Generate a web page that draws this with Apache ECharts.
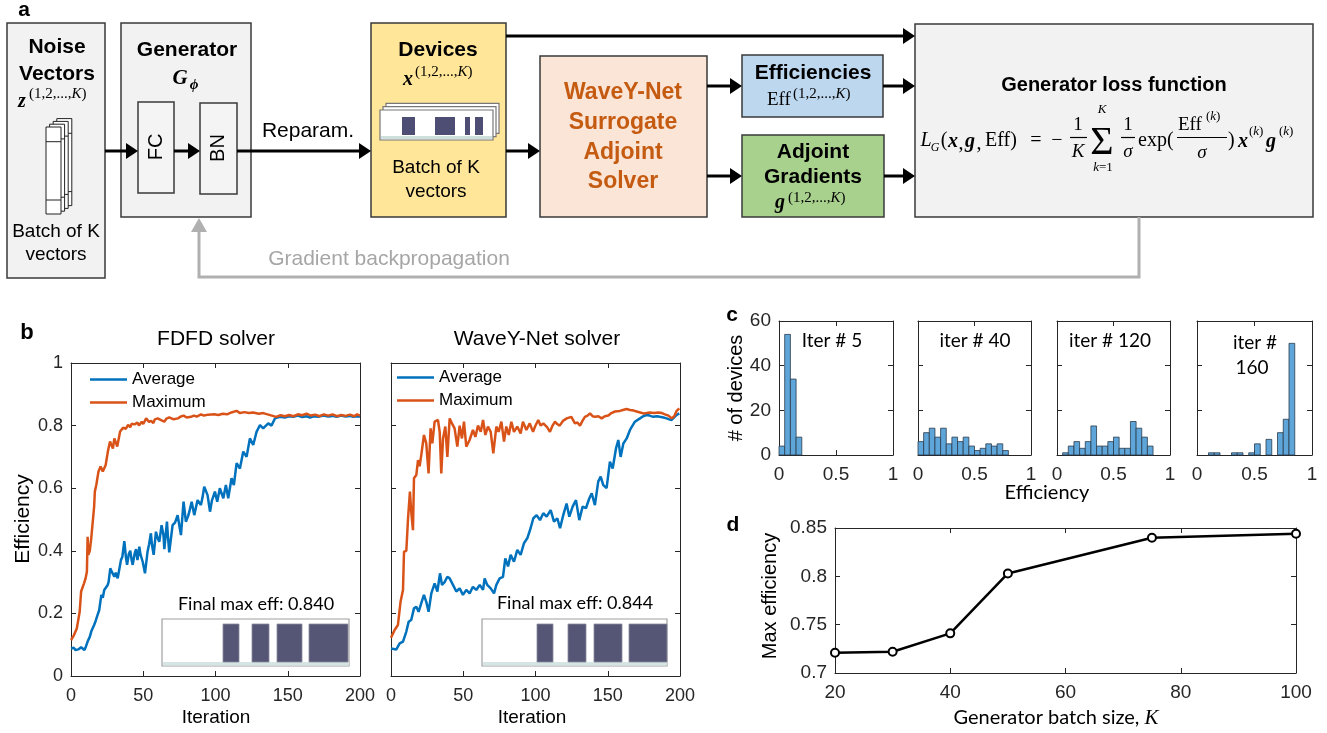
<!DOCTYPE html>
<html><head><meta charset="utf-8">
<script src="https://cdn.jsdelivr.net/npm/echarts@6/dist/echarts.min.js"></script>
<style>html,body{margin:0;padding:0;background:#fff}#c{width:1327px;height:733px}</style>
</head><body><div id="c"></div>
<script>
// ---------- Panel b data: [iteration, efficiency] ----------
const fdfdAvg = [[0,0.088],[2,0.09],[3,0.083],[5,0.085],[7,0.092],[8,0.088],[9.3,0.083],[10,0.09],[11.5,0.11],[13,0.125],[14,0.142],[16,0.163],[17,0.175],[18.4,0.195],[19.5,0.21],[21,0.259],[22,0.25],[23,0.275],[25.4,0.291],[26,0.3],[27.2,0.344],[28,0.335],[30,0.317],[31,0.33],[32.3,0.312],[34.6,0.371],[35.5,0.38],[36.9,0.431],[38,0.38],[38.8,0.355],[40,0.39],[41,0.40],[42,0.37],[42.7,0.355],[44,0.39],[45,0.405],[46,0.37],[47.3,0.413],[48,0.39],[49.6,0.365],[51.2,0.328],[53,0.398],[54,0.42],[55.3,0.456],[56,0.42],[57.2,0.387],[58.8,0.461],[60,0.44],[61.1,0.429],[62.7,0.482],[64,0.45],[64.6,0.405],[66.4,0.493],[67,0.45],[68,0.395],[70.3,0.482],[72,0.49],[73.8,0.514],[75,0.48],[76.1,0.45],[77.9,0.557],[79.5,0.493],[81,0.51],[81.9,0.525],[83.5,0.557],[85.3,0.514],[87.6,0.562],[89.9,0.546],[91,0.57],[92.2,0.605],[94.5,0.578],[96.2,0.525],[97.5,0.56],[99.6,0.589],[101.2,0.557],[103,0.6],[105.4,0.568],[107.2,0.61],[108.8,0.568],[111.1,0.632],[112.7,0.61],[114.6,0.68],[116.9,0.663],[119.2,0.717],[121.5,0.70],[123.8,0.759],[126.1,0.738],[128.4,0.78],[130.8,0.802],[133,0.791],[136.5,0.807],[138.8,0.80],[141.1,0.823],[144.6,0.828],[148,0.826],[151,0.83],[153.8,0.828],[157,0.832],[160,0.827],[163,0.83],[165.4,0.826],[168,0.83],[171,0.828],[174.6,0.832],[178,0.829],[181,0.831],[183.8,0.828],[187,0.832],[190,0.829],[193,0.831],[195.3,0.828],[198,0.83],[200,0.828]];
const fdfdMax = [[0,0.115],[2,0.13],[4,0.152],[6,0.205],[7,0.27],[9,0.296],[10,0.31],[11,0.333],[11.5,0.445],[12,0.387],[13,0.40],[14,0.44],[15,0.445],[16,0.54],[16.5,0.589],[17.5,0.61],[19,0.653],[20.5,0.669],[22,0.653],[24,0.674],[25.5,0.717],[27,0.749],[29,0.727],[30,0.759],[32,0.733],[34,0.781],[36,0.793],[38,0.79],[39.5,0.802],[41,0.795],[42,0.806],[44,0.804],[46,0.81],[47,0.80],[49,0.8125],[50,0.805],[52,0.823],[54,0.812],[55.5,0.815],[57,0.808],[58,0.82],[60,0.823],[62,0.818],[64.5,0.8125],[66,0.822],[68,0.826],[69,0.828],[71,0.82],[74,0.823],[76,0.829],[78,0.832],[80,0.826],[83,0.828],[85,0.832],[87,0.829],[90,0.836],[92,0.832],[95,0.835],[99,0.836],[102,0.834],[105,0.838],[108,0.836],[111,0.842],[114.6,0.847],[117,0.84],[120,0.843],[123,0.84],[126,0.842],[130,0.838],[133,0.84],[136,0.836],[139,0.832],[142,0.828],[145,0.833],[148,0.83],[151,0.834],[154,0.83],[157,0.836],[160,0.833],[163,0.838],[166,0.832],[169,0.835],[172,0.83],[175,0.836],[178,0.832],[181,0.836],[184,0.83],[187,0.834],[190,0.831],[193,0.835],[196,0.83],[198,0.836],[200,0.832]];
const wyAvg = [[0,0.088],[3.7,0.085],[6,0.104],[8.3,0.11],[10.6,0.142],[12.2,0.173],[14,0.179],[15.9,0.216],[17.5,0.221],[19.1,0.205],[20.9,0.232],[22.8,0.259],[24.4,0.237],[26,0.205],[27.9,0.264],[30.2,0.296],[32.1,0.27],[33.9,0.328],[35.3,0.291],[37.1,0.30],[39,0.317],[40.6,0.312],[42.9,0.291],[45.2,0.27],[47.5,0.28],[49.8,0.259],[52.1,0.275],[54.4,0.264],[56.7,0.285],[59,0.275],[61.4,0.291],[63.7,0.275],[64.8,0.312],[66.6,0.291],[69,0.28],[71.3,0.264],[72.9,0.291],[75.2,0.312],[77.5,0.317],[79.1,0.376],[81,0.35],[82.8,0.387],[85.1,0.365],[87.4,0.403],[89.7,0.387],[92,0.424],[94.3,0.44],[96.6,0.472],[98.5,0.504],[100.8,0.514],[103.1,0.498],[105.4,0.52],[107.7,0.509],[110.5,0.53],[112.8,0.493],[115.1,0.504],[117,0.472],[119.2,0.514],[121.5,0.551],[123.4,0.509],[125.7,0.541],[128,0.562],[130.3,0.498],[132.6,0.541],[134.9,0.536],[137.2,0.567],[138.9,0.584],[141.1,0.546],[143.4,0.621],[145.1,0.637],[146.9,0.61],[149.2,0.60],[151.5,0.685],[153.4,0.663],[155.7,0.727],[157.3,0.754],[158.9,0.70],[160.8,0.743],[163.1,0.759],[165.4,0.786],[168.8,0.8125],[172.3,0.823],[174.5,0.83],[176.9,0.834],[179,0.832],[181.5,0.828],[184,0.83],[186.1,0.828],[188.5,0.826],[190.7,0.823],[192.5,0.82],[194.2,0.818],[196,0.826],[197.7,0.834],[199.5,0.839]];
const wyMax = [[0,0.122],[2.5,0.147],[4.8,0.163],[6.6,0.237],[8.3,0.275],[9,0.397],[10.6,0.40],[11.8,0.504],[13.1,0.589],[14,0.525],[15.2,0.466],[15.9,0.632],[17.5,0.642],[18.7,0.69],[19.8,0.67],[20.9,0.704],[22.8,0.77],[24.4,0.743],[26,0.647],[27.4,0.791],[28.6,0.743],[30.2,0.8125],[32.5,0.818],[33.7,0.78],[34.8,0.647],[36,0.759],[37.6,0.797],[39,0.70],[40.6,0.823],[42.2,0.807],[44,0.791],[45.9,0.733],[47.5,0.80],[49.1,0.759],[50.5,0.8125],[52.1,0.733],[54.4,0.754],[56.7,0.786],[58.4,0.764],[60.2,0.80],[62.1,0.78],[63.7,0.818],[65.3,0.77],[67.1,0.797],[69,0.78],[70.8,0.711],[72.9,0.797],[74.5,0.78],[76.4,0.8125],[78.2,0.749],[79.8,0.797],[81.5,0.77],[83.3,0.8125],[85.1,0.78],[87.4,0.797],[89.7,0.775],[91.3,0.8125],[93.7,0.786],[96,0.807],[98.3,0.78],[99.7,0.797],[101.9,0.818],[103.5,0.80],[105.4,0.807],[108,0.795],[110,0.78],[111.8,0.80],[113.5,0.8125],[115,0.805],[116.7,0.80],[119,0.815],[121.6,0.823],[124.8,0.828],[127.3,0.807],[129,0.81],[130.8,0.80],[132.5,0.815],[134.2,0.828],[136,0.832],[137.7,0.839],[139.5,0.83],[141.1,0.828],[143.5,0.83],[145.8,0.823],[148,0.83],[150.4,0.832],[152.5,0.84],[155,0.845],[158.4,0.847],[160.5,0.85],[163,0.853],[165.4,0.85],[168,0.848],[170,0.845],[172.5,0.842],[174.6,0.839],[177,0.84],[179.2,0.842],[182,0.84],[185,0.842],[187.5,0.84],[189.6,0.836],[192,0.832],[194.2,0.823],[196,0.83],[197.7,0.847],[199.5,0.855]];

// ---------- Panel c data: histogram counts (bin width 0.05) ----------
const histBinWidth = 0.05;
const histStart = [0, 0, 0.05, 0.10];
const histIter5 = [4,54,34,8];
const histIter40 = [6,10,12,8,12,5,8,6,8,4,2,3,5,4,5,2];
const histIter120 = [1,4,6,3,6,13,4,4,6,8,3,3,15,12,8,4];
const histIter160 = [1,1,0,0,1,1,0,1,5,0,7,0,10,16,50];

// ---------- Panel d data ----------
const batchSize = [20,30,40,50,75,100];
const maxEff = [0.721,0.722,0.741,0.803,0.840,0.844];

const SANS = '"Liberation Sans", Arial, sans-serif';
const SERIF = '"Liberation Serif", "DejaVu Serif", serif';
const CAL = 'Lato, "Open Sans", sans-serif';
const AX = '#262626';
const BLUE = '#0072BD', ORANGE = '#D95319';

// ---------- graphic helpers (diagram / annotations) ----------
const g = [];
function R(x,y,w,h,fill,stroke,lw,z){ g.push({type:'rect', z:z||5, shape:{x:x,y:y,width:w,height:h}, style:{fill:fill, stroke:stroke||null, lineWidth: lw==null?1:lw}}); }
function P(points, stroke, lw, z){ g.push({type:'polyline', z:z||6, shape:{points:points}, style:{stroke:stroke, lineWidth:lw, fill:null}}); }
function G(points, fill, z){ g.push({type:'polygon', z:z||6, shape:{points:points}, style:{fill:fill}}); }
function arrowH(x1,x2,y){ P([[x1,y],[x2-9,y]],'#000',3); G([[x2-12,y-8],[x2,y],[x2-12,y+8]],'#000'); }
function T(x,y,text,size,o){ o=o||{}; g.push({type:'text', z:o.z||10, x:x, y:y, rotation:o.rot||0,
  style:{text:text, fontSize:size, fontFamily:o.ff||SANS, fontWeight:o.fw||'normal', fontStyle:o.fs||'normal',
  fill:o.color||'#000', align:o.align||'center', verticalAlign:o.va||'middle', rich:o.rich}}); }
function supK(x,y,size,txt){
  T(x,y,txt,size,{ff:SERIF, align:'left', rich:{u:{fontSize:size,fontFamily:SERIF,fill:'#000'}, i:{fontSize:size,fontFamily:SERIF,fontStyle:'italic',fill:'#000'}}});
}

// Panel labels
T(24,10,'a',21,{fw:'bold'});
T(27,333,'b',22,{fw:'bold'});
T(732,315,'c',21,{fw:'bold'});
T(733,525,'d',21,{fw:'bold'});

// ---- Panel a diagram ----
R(7,23,98,255,'#f2f2f2','#3a3a3a',1.5);
R(121,23,130,194,'#f2f2f2','#3a3a3a',1.5);
R(138,102,36,91,'#f4f4f4','#3a3a3a',1.5);
R(200,103,37,91,'#f4f4f4','#3a3a3a',1.5);
R(371,23,135,194,'#ffe699','#3a3a3a',1.5);
R(540,56,167,161,'#fbe5d6','#3a3a3a',1.5);
R(742,55,141,62,'#bdd7ee','#3a3a3a',1.5);
R(742,135,142,82,'#a9d18e','#3a3a3a',1.5);
R(915,24,398,193,'#f2f2f2','#3a3a3a',1.5);

// noise vector stack
for (let i=3;i>=0;i--){
  const x=46+3.6*i, y=127-2.8*i;
  R(x,y,15,87,'#ffffff','#222',1,7);
  P([[x,y+14.7],[x+15,y+14.7]],'#222',1,7);
  P([[x,y+73],[x+15,y+73]],'#222',1,7);
}
// device stack
for (let i=2;i>=0;i--){
  const x=380+3*i, y=110-3.3*i;
  R(x,y,113,30,'#ffffff','#777',1.2,7);
}
R(381,136,111,3,'#cfe0dc',null,0,8);
[[402,13],[435,20],[465,5],[475,8]].forEach(b=>R(b[0],117,b[1],18,'#4e4e74',null,0,8));

// arrows
arrowH(105,138,151); arrowH(174,200,151); arrowH(237,371,151);
arrowH(506,915,36); arrowH(506,540,151);
arrowH(707,742,86); arrowH(707,742,176);
arrowH(883,915,86); arrowH(884,915,176);
// backprop
P([[1139,217],[1139,277],[199,277],[199,230]],'#b0b0b0',3);
G([[191,232],[199,218],[207,232]],'#b0b0b0');
T(389,259,'Gradient backpropagation',21,{color:'#a6a6a6'});

// texts in boxes
T(57,47,'Noise',21,{fw:'bold'});
T(57,74,'Vectors',21,{fw:'bold'});
T(22,102,'z',20,{ff:SERIF,fw:'bold',fs:'italic'});
supK(29,94,15,'{u|(1,2,...,}{i|K}{u|)}');
T(56,232,'Batch of K',19);
T(56,255,'vectors',19);

T(187,50,'Generator',21,{fw:'bold'});
T(180,79,'G',21,{ff:SERIF,fw:'bold',fs:'italic'});
T(194,85,'ϕ',15,{ff:SERIF,fw:'bold',fs:'italic'});
T(156,147,'FC',20,{rot:Math.PI/2});
T(218,148,'BN',20,{rot:Math.PI/2});
T(308,131,'Reparam.',21);

T(438,50,'Devices',21,{fw:'bold'});
T(408,80,'x',20,{ff:SERIF,fw:'bold',fs:'italic'});
supK(415,72,15,'{u|(1,2,...,}{i|K}{u|)}');
T(436,168,'Batch of K',19);
T(436,192,'vectors',19);

const WC = '#c55a11';
T(623,93,'WaveY-Net',23,{fw:'bold',color:WC});
T(623,123,'Surrogate',23,{fw:'bold',color:WC});
T(623,153,'Adjoint',23,{fw:'bold',color:WC});
T(623,182,'Solver',23,{fw:'bold',color:WC});

T(813,73,'Efficiencies',21,{fw:'bold'});
T(767,100,'Eff',19,{ff:SERIF,align:'left'});
supK(793,94,15,'{u|(1,2,...,}{i|K}{u|)}');
T(813,152,'Adjoint',21,{fw:'bold'});
T(813,177,'Gradients',21,{fw:'bold'});
T(780,203,'g',20,{ff:SERIF,fw:'bold',fs:'italic'});
supK(788,198,15,'{u|(1,2,...,}{i|K}{u|)}');

// loss function
T(1114,85,'Generator loss function',20,{fw:'bold'});
const it = {ff:SERIF, fs:'italic'}, bi = {ff:SERIF, fs:'italic', fw:'bold'}, rm = {ff:SERIF};
T(926,141,'L',20,it); T(935,148,'G',12,it);
T(944,141,'(',20,rm); T(953,142,'x',20,bi); T(961,144,',',20,rm);
T(970,142,'g',20,bi); T(979,144,',',20,rm); T(985,141,'Eff)',20,{ff:SERIF,align:'left'});
T(1036,141,'=',20,rm); T(1057,141,'−',20,rm);
T(1078,125,'1',19,rm); P([[1070,137.5],[1087,137.5]],'#000',1.2); T(1078,152,'K',19,it);
T(1102,143,'Σ',40,rm); T(1102,110,'K',13,it);
T(1103,168,'{i|k}{u|=1}',13,{ff:SERIF,rich:{i:{fontSize:13,fontFamily:SERIF,fontStyle:'italic'},u:{fontSize:13,fontFamily:SERIF}}});
T(1128,125,'1',19,rm); P([[1121,137.5],[1135,137.5]],'#000',1.2); T(1128,152,'σ',19,it);
T(1138,141,'exp(',20,{ff:SERIF,align:'left'});
T(1178,125,'Eff',19,{ff:SERIF,align:'left'}); supK(1206,117,13,'{u|(}{i|k}{u|)}');
P([[1177,137.5],[1227,137.5]],'#000',1.2); T(1202,153,'σ',19,it);
T(1228,141,')',20,{ff:SERIF,align:'left'});
T(1243,142,'x',20,bi); supK(1249,132,13,'{u|(}{i|k}{u|)}');
T(1271,142,'g',20,bi); supK(1279,132,13,'{u|(}{i|k}{u|)}');

// ---- Panel b annotations ----
T(216,339,'FDFD solver',21);
T(537,339,'WaveY-Net solver',21);
T(23,519,'Efficiency',21,{rot:Math.PI/2});
T(216,718,'Iteration',19);
T(532,718,'Iteration',19);
T(256,604,'Final max eff: 0.840',18,{ff:CAL});
T(575,603,'Final max eff: 0.844',18,{ff:CAL});
function inset(x0,w,bars){
  R(x0,619,w,47,'#ffffff','#a0a0a0',1.2,7);
  R(x0+1,662,w-1,3.5,'#d5e5e3',null,0,8);
  bars.forEach(b=>R(b[0],624,b[1],38,'#555575','#8a8aa0',0.8,8));
}
inset(162,187,[[223,16],[252,17],[277,25],[309,39]]);
inset(482,185,[[537,16],[568,18],[594,28],[629,38]]);

// ---- Panel c annotations ----
T(736,388,'# of devices',20,{rot:Math.PI/2});
T(1047,493,'Efficiency',20,{ff:CAL});
T(832,341,'Iter # 5',19,{ff:CAL});
T(975,341,'iter # 40',19,{ff:CAL});
T(1110,341,'iter # 120',19,{ff:CAL});
T(1255,343,'iter #',19,{ff:CAL});
T(1252,368,'160',19,{ff:CAL});

// ---- Panel d annotations ----
T(770,596,'Max efficiency',20,{rot:Math.PI/2});
T(1056,718,'{a|Generator batch size, }{k|K}',20,{ff:CAL,rich:{a:{fontSize:20,fontFamily:CAL,fill:'#000'},k:{fontSize:21,fontFamily:SERIF,fontStyle:'italic',fill:'#000'}}});

// ---------- grids & axes ----------
const grids = [
  {left:71, top:363, width:289, height:313},
  {left:391, top:363, width:289, height:313},
  {left:779, top:321, width:114, height:134},
  {left:918, top:321, width:113, height:134},
  {left:1057, top:321, width:113, height:134},
  {left:1197, top:321, width:115, height:134},
  {left:835, top:528, width:461, height:145}
];
function axis(gi, pos, r, show, fs, margin, fmt){
  return {type:'value', gridIndex:gi, position:pos, min:r[0], max:r[1], interval:r[2],
    axisLine:{show:true, onZero:false, lineStyle:{color:AX, width:1}},
    axisTick:{show:true, inside:true, length:5, lineStyle:{color:AX}},
    splitLine:{show:false},
    axisLabel:{show:show, fontSize:fs, fontFamily:SANS, color:AX, margin:margin, formatter:fmt}};
}
const fmt2 = v => String(+v.toFixed(2));
const axCfg = [
  {x:[0,200,50], y:[0,1,0.2], xl:true, yl:true, xfs:18, yfs:18, xm:11, ym:8},
  {x:[0,200,50], y:[0,1,0.2], xl:true, yl:false, xfs:18, yfs:18, xm:11, ym:8},
  {x:[0,1,0.5], y:[0,60,20], xl:true, yl:true, xfs:19, yfs:19, xm:10, ym:8},
  {x:[0,1,0.5], y:[0,60,20], xl:true, yl:false, xfs:19, yfs:19, xm:10, ym:8},
  {x:[0,1,0.5], y:[0,60,20], xl:true, yl:false, xfs:19, yfs:19, xm:10, ym:8},
  {x:[0,1,0.5], y:[0,60,20], xl:true, yl:false, xfs:19, yfs:19, xm:10, ym:8},
  {x:[20,100,20], y:[0.7,0.85,0.05], xl:true, yl:true, xfs:19, yfs:19, xm:10, ym:8}
];
const xAxes = [], yAxes = [];
axCfg.forEach((c,gi)=>{
  xAxes.push(axis(gi,'bottom',c.x,c.xl,c.xfs,c.xm,fmt2));
  xAxes.push(axis(gi,'top',c.x,false,c.xfs,c.xm,fmt2));
  yAxes.push(axis(gi,'left',c.y,c.yl,c.yfs,c.ym,fmt2));
  yAxes.push(axis(gi,'right',c.y,false,c.yfs,c.ym,fmt2));
});

// ---------- series ----------
function lineS(name, data, gi, color){
  return {type:'line', name:name, xAxisIndex:2*gi, yAxisIndex:2*gi, data:data, showSymbol:false, symbol:'none',
    lineStyle:{color:color, width:2.5}, itemStyle:{color:color}, z:3};
}
function histS(counts, start, gi){
  const data = [];
  counts.forEach((n,i)=>{ if(n>0){ const x0 = +(start + i*histBinWidth).toFixed(3); data.push([x0, +(x0+histBinWidth).toFixed(3), n]); } });
  return {type:'custom', xAxisIndex:2*gi, yAxisIndex:2*gi, data:data, encode:{x:[0,1], y:2},
    renderItem:function(params, api){
      const p0 = api.coord([api.value(0), api.value(2)]);
      const p1 = api.coord([api.value(1), 0]);
      return {type:'rect', shape:{x:p0[0], y:p0[1], width:p1[0]-p0[0], height:p1[1]-p0[1]},
        style:{fill:'#5ea5d9', stroke:'#2b3b4b', lineWidth:0.8}};
    }};
}
const series = [
  lineS('Average', fdfdAvg, 0, BLUE), lineS('Maximum', fdfdMax, 0, ORANGE),
  lineS('Average', wyAvg, 1, BLUE), lineS('Maximum', wyMax, 1, ORANGE),
  histS(histIter5, histStart[0], 2), histS(histIter40, histStart[1], 3),
  histS(histIter120, histStart[2], 4), histS(histIter160, histStart[3], 5),
  {type:'line', xAxisIndex:12, yAxisIndex:12, data:batchSize.map((k,i)=>[k,maxEff[i]]),
   symbol:'circle', symbolSize:8, lineStyle:{color:'#000', width:2.5},
   itemStyle:{color:'#ffffff', borderColor:'#000', borderWidth:2}, z:4}
];

const legendBase = {orient:'vertical', data:['Average','Maximum'], icon:'rect', itemWidth:37, itemHeight:2.5,
  itemGap:6, selectedMode:false, textStyle:{fontSize:17, fontFamily:SANS, color:'#000'}};
const chart = echarts.init(document.getElementById('c'), null, {renderer:'canvas'});
chart.setOption({
  animation:false,
  backgroundColor:'#fff',
  grid: grids,
  xAxis: xAxes,
  yAxis: yAxes,
  legend:[Object.assign({left:85, top:366}, legendBase), Object.assign({left:392, top:364}, legendBase)],
  series: series,
  graphic: {elements: g}
});
</script></body></html>
